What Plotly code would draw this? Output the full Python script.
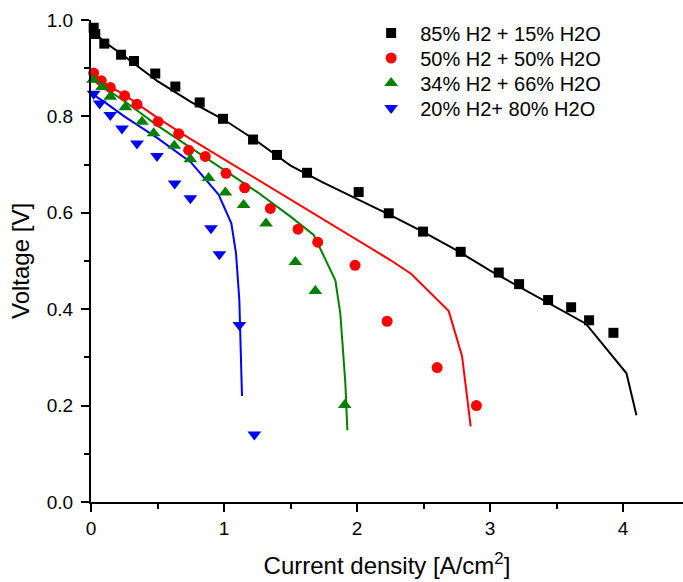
import plotly.graph_objects as go

# Measured polarization data: current density [A/cm2] and cell voltage [V]
labels = ["85% H2 + 15% H2O", "50% H2 + 50% H2O", "34% H2 + 66% H2O", "20% H2+ 80% H2O"]
colors = ["#000000", "#FF0000", "#008000", "#0000FF"]
symbols = ["square", "circle", "triangle-up", "triangle-down"]
sizes = [10, 11, 12, 12]

j_85 = [0.02, 0.032, 0.10, 0.226, 0.323, 0.483, 0.634, 0.817, 0.992, 1.218, 1.398,
        1.624, 2.012, 2.238, 2.496, 2.779, 3.065, 3.218, 3.436, 3.609, 3.744, 3.927]
v_85 = [0.984, 0.971, 0.951, 0.928, 0.915, 0.889, 0.862, 0.829, 0.795, 0.752, 0.720,
        0.683, 0.643, 0.599, 0.561, 0.519, 0.476, 0.452, 0.419, 0.404, 0.377, 0.351]

j_50 = [0.02, 0.077, 0.145, 0.253, 0.346, 0.504, 0.659, 0.734, 0.859, 1.015, 1.155,
        1.348, 1.556, 1.704, 1.985, 2.226, 2.602, 2.897]
v_50 = [0.890, 0.874, 0.860, 0.843, 0.825, 0.789, 0.764, 0.730, 0.717, 0.682, 0.652,
        0.609, 0.566, 0.539, 0.491, 0.375, 0.279, 0.200]

j_34 = [0.015, 0.083, 0.145, 0.258, 0.383, 0.471, 0.626, 0.747, 0.884, 1.010, 1.147,
        1.316, 1.536, 1.686, 1.907]
v_34 = [0.876, 0.861, 0.841, 0.819, 0.789, 0.765, 0.739, 0.711, 0.672, 0.642, 0.616,
        0.578, 0.498, 0.438, 0.201]

j_20 = [0.02, 0.065, 0.145, 0.233, 0.346, 0.496, 0.629, 0.747, 0.902, 0.965, 1.115, 1.228]
v_20 = [0.847, 0.827, 0.803, 0.775, 0.744, 0.718, 0.661, 0.630, 0.568, 0.514, 0.367, 0.140]

# Model curves
jm_85 = [0.0, 0.1, 0.25, 0.5, 0.75, 1.0, 1.25, 1.5, 1.75, 2.0, 2.25, 2.5, 2.75, 3.0,
         3.25, 3.5, 3.72, 4.025, 4.1]
vm_85 = [0.98, 0.955, 0.925, 0.873, 0.83, 0.793, 0.748, 0.698, 0.662, 0.629, 0.595,
         0.56, 0.522, 0.48, 0.442, 0.403, 0.37, 0.267, 0.18]

jm_50 = [0.0, 0.1, 0.25, 0.5, 0.75, 1.0, 1.25, 1.5, 1.75, 2.0, 2.25, 2.408, 2.689,
         2.789, 2.854]
vm_50 = [0.888, 0.868, 0.845, 0.797, 0.753, 0.711, 0.669, 0.627, 0.585, 0.543, 0.502,
         0.473, 0.396, 0.303, 0.157]

jm_34 = [0.0, 0.1, 0.25, 0.5, 0.75, 1.0, 1.25, 1.5, 1.674, 1.837, 1.874, 1.912, 1.927]
vm_34 = [0.878, 0.86, 0.832, 0.781, 0.735, 0.69, 0.643, 0.592, 0.554, 0.46, 0.391,
         0.246, 0.149]

jm_20 = [0.0, 0.1, 0.25, 0.5, 0.75, 0.959, 1.055, 1.09, 1.115, 1.135]
vm_20 = [0.848, 0.83, 0.80, 0.755, 0.705, 0.638, 0.578, 0.516, 0.419, 0.22]

meas = [(j_85, v_85), (j_50, v_50), (j_34, v_34), (j_20, v_20)]
model = [(jm_85, vm_85), (jm_50, vm_50), (jm_34, vm_34), (jm_20, vm_20)]

legend_ids = ["legend", "legend2", "legend3", "legend4"]

fig = go.Figure()
for (jm, vm), c in zip(model, colors):
    fig.add_trace(go.Scatter(x=jm, y=vm, mode="lines", showlegend=False,
                             line=dict(color=c, width=2), hoverinfo="skip"))
for (j, v), c, s, sz, name, lg in zip(meas, colors, symbols, sizes, labels, legend_ids):
    fig.add_trace(go.Scatter(x=j, y=v, mode="markers", name=name, cliponaxis=False,
                             legend=lg,
                             marker=dict(color=c, symbol=s, size=sz, line=dict(width=0))))

font_family = "Arial, Liberation Sans, sans-serif"

# one legend box per row so the rows sit 25 px apart
plot_top, plot_h = 20, 482
row_px = [33, 58, 83, 108]
legend_layout = {}
for lg, py in zip(legend_ids, row_px):
    legend_layout[lg] = dict(x=0.458, y=1 - (py - plot_top) / plot_h,
                             xanchor="left", yanchor="middle",
                             font=dict(size=20, color="black"), itemwidth=48,
                             bgcolor="rgba(0,0,0,0)")

fig.update_layout(
    width=683, height=582,
    margin=dict(l=91, r=0, t=20, b=80),
    paper_bgcolor="white", plot_bgcolor="white",
    font=dict(family=font_family, color="black", size=19),
    xaxis=dict(range=[0, 4.45], dtick=1, tick0=0, showgrid=False, zeroline=False,
               showline=True, linecolor="black", linewidth=2,
               ticks="outside", ticklen=8, tickwidth=2, tickcolor="black",
               tickfont=dict(size=19),
               minor=dict(dtick=0.5, ticks="outside", ticklen=5, tickwidth=2,
                          tickcolor="black", showgrid=False),
               title=dict(text="Current density [A/cm<sup>2</sup>]",
                          font=dict(size=24), standoff=19)),
    yaxis=dict(range=[0, 1.0], dtick=0.2, tick0=0, tickformat=".1f", showgrid=False,
               zeroline=False, showline=True, linecolor="black", linewidth=2,
               ticks="outside", ticklen=8, tickwidth=2, tickcolor="black",
               tickfont=dict(size=19), ticklabelstandoff=4,
               minor=dict(dtick=0.1, ticks="outside", ticklen=5, tickwidth=2,
                          tickcolor="black", showgrid=False),
               title=dict(text="Voltage [V]", font=dict(size=24), standoff=10)),
    **legend_layout,
)

fig.write_html("out.html")
